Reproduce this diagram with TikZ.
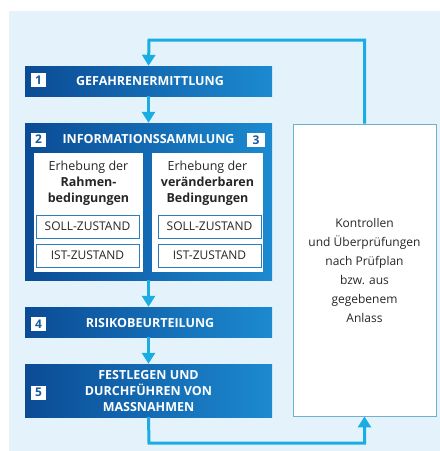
\documentclass[tikz,border=0pt]{standalone}
\usepackage{fontspec}
\setmainfont{Open Sans}
\usetikzlibrary{arrows.meta}
\definecolor{bgc}{HTML}{E4F3FB}
\definecolor{dkb}{HTML}{0B4B95}
\definecolor{ltb}{HTML}{1C8AD0}
\definecolor{arrc}{HTML}{19ADE4}
\definecolor{numc}{HTML}{1A5A9E}
\definecolor{rbord}{HTML}{6FAFD2}
\definecolor{sbord}{HTML}{2C7DBE}
\definecolor{txt}{HTML}{262626}
\tikzset{
  stepbox/.style={draw=none, left color=dkb, right color=ltb, minimum width=247pt, inner sep=0pt},
  titletext/.style={text=white, align=center, inner sep=0pt, font=\fontsize{12.5}{16}\selectfont\bfseries},
  numbox/.style={fill=white, draw=none, minimum width=15pt, minimum height=14pt, inner sep=0pt,
    text=numc, font=\fontsize{12}{12}\selectfont\bfseries},
  panel/.style={fill=white, draw=none, minimum height=119pt, inner sep=0pt},
  zbox/.style={fill=white, draw=sbord, line width=0.9pt, minimum width=103pt, minimum height=23pt,
    inner sep=0pt, text=txt, font=\fontsize{12}{12}\selectfont},
  ptext/.style={align=center, text=txt, font=\fontsize{12.5}{16}\selectfont, inner sep=0pt},
  arr/.style={draw=arrc, line width=3pt, -{Triangle[width=13pt,length=11pt]}}
}
\begin{document}
\begin{tikzpicture}[x=1pt,y=-1pt]
\useasboundingbox (0,0) rectangle (440,451);
\fill[bgc] (9,11) rectangle (440,451);
% step 1
\node[stepbox, minimum height=30pt] (b1) at (148.5,81) {};
\node[titletext] (t1) at (150,81) {GEFAHRENERMITTLUNG};
\node[numbox] (n1) at (38.5,80) {1};
% step 2/3
\node[stepbox, minimum height=157pt] (b2) at (148.5,201.5) {};
\node[titletext] (t2) at (148.5,139.5) {INFORMATIONSSAMMLUNG};
\node[numbox] (n2) at (38.5,139.5) {2};
\node[numbox, minimum width=18pt] (n3) at (256,140) {3};
\node[panel, minimum width=109pt] (pl) at (88.5,212.5) {};
\node[panel, minimum width=111pt] (pr) at (207.5,212.5) {};
\node[ptext] (tl) at (88.5,183) {Erhebung der\\\textbf{Rahmen-}\\\textbf{bedingungen}};
\node[ptext] (tr) at (207.5,183) {Erhebung der\\\textbf{veränderbaren}\\\textbf{Bedingungen}};
\node[zbox] (sl) at (87.5,226.5) {SOLL-ZUSTAND};
\node[zbox] (il) at (87.5,255.5) {IST-ZUSTAND};
\node[zbox] (sr) at (209.5,226.5) {SOLL-ZUSTAND};
\node[zbox] (ir) at (209.5,255.5) {IST-ZUSTAND};
% step 4
\node[stepbox, minimum height=30pt] (b4) at (148.5,322) {};
\node[titletext] (t4) at (150,323) {RISIKOBEURTEILUNG};
\node[numbox] (n4) at (38.5,324) {4};
% step 5
\node[stepbox, minimum height=53pt] (b5) at (148.5,390.5) {};
\node[titletext] (t5) at (148.5,391) {FESTLEGEN UND\\DURCHFÜHREN VON\\MASSNAHMEN};
\node[numbox] (n5) at (38.5,392.5) {5};
% right box
\node[fill=white, draw=rbord, line width=0.9pt, minimum width=143pt, minimum height=292pt, inner sep=0pt] (R) at (364.5,270) {};
\node[align=center, text=txt, font=\fontsize{12}{19}\selectfont] (tR) at (364.5,270) {Kontrollen\\und Überprüfungen\\nach Prüfplan\\bzw. aus\\gegebenem\\Anlass};
% connectors
\coordinate (c1) at (149,40);
\coordinate (c2) at (149,443);
\draw[arr] (b1.south) -- (b2.north);
\draw[arr] (b2.south) -- (b4.north);
\draw[arr] (b4.south) -- (b5.north);
\draw[arr] (R.north) |- (c1) -- (b1.north);
\draw[arr] (b5.south) -- (c2) -| (R.south);
\end{tikzpicture}
\end{document}
